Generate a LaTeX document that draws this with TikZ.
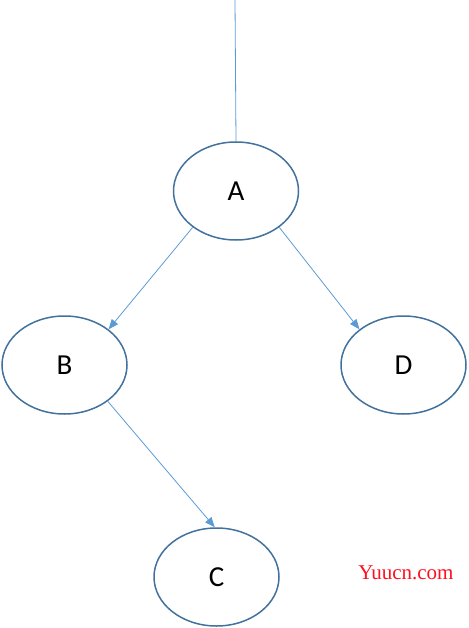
\documentclass[tikz,border=0pt]{standalone}
\usepackage{fontspec}
\setmainfont{Carlito}
\newfontfamily\wmfont{Liberation Serif}
\usetikzlibrary{arrows.meta,shapes.geometric}
\definecolor{ellborder}{HTML}{41719C}
\definecolor{conn}{HTML}{5B9BD5}
\definecolor{wmred}{HTML}{FF1020}
\tikzset{
  treenode/.style={draw=ellborder, line width=1.5pt, ellipse, minimum width=125pt, minimum height=98pt, inner sep=0pt, font=\fontsize{29}{32}\selectfont},
  conline/.style={draw=conn, line width=0.8pt},
  conarrow/.style={conline, -{Triangle[length=10pt, width=8pt]}}
}
\begin{document}
\begin{tikzpicture}[x=1pt, y=-1pt]
\useasboundingbox (0,0) rectangle (468,628);
\node[treenode] (A) at (236,191) {A};
\node[treenode] (B) at (64.5,365) {B};
\node[treenode] (D) at (403.5,365) {D};
\node[treenode] (C) at (216.5,577) {C};
\coordinate (top) at (235,0);
\draw[conline] (top) -- (A.north);
\draw[conarrow] (A.-140) -- (B.39);
\draw[conarrow] (A.-40) -- (D.141);
\draw[conarrow] (B.-40) -- (C.92);
\node[text=wmred, font=\wmfont\fontsize{21}{24}\selectfont, anchor=base] (wm) at (406,579) {Yuucn.com};
\end{tikzpicture}
\end{document}
